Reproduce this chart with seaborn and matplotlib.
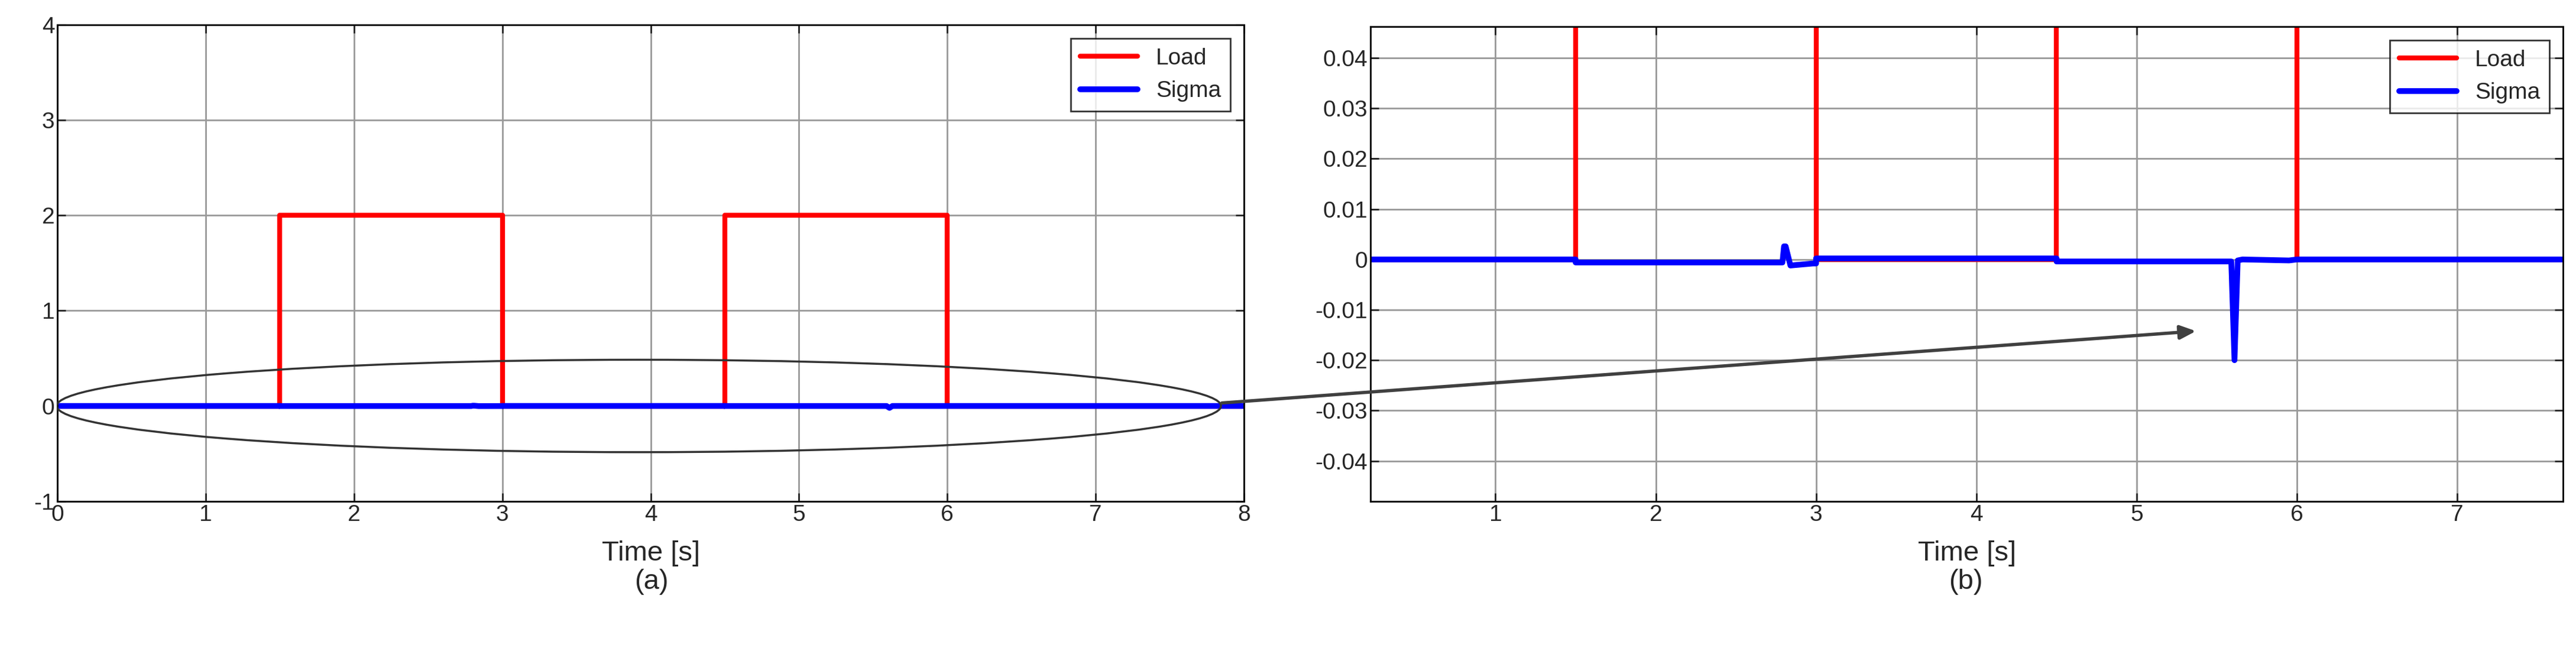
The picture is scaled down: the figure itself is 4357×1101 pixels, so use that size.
import numpy as np
import matplotlib.pyplot as plt
import seaborn as sns
from matplotlib.patches import Ellipse

# --- data ---
load_t = [0, 1.5, 1.5, 3.0, 3.0, 4.5, 4.5, 6.0, 6.0, 8.0]
load_v = [0, 0, 2, 2, 0, 0, 2, 2, 0, 0]

sigma_t = [0, 1.5, 1.5, 2.79, 2.80, 2.81, 2.84, 2.98, 3.0, 3.0, 4.5, 4.5, 5.59, 5.61, 5.63, 5.66, 5.95, 6.0, 8.0]
sigma_v = [0, 0, -0.0006, -0.0006, 0.0026, 0.0026, -0.0012, -0.0008, -0.0008, 0.0002, 0.0002,
           -0.0004, -0.0004, -0.0200, -0.0002, 0.0, -0.0002, 0.0, 0.0]

left_yticks = [-1, 0, 1, 2, 3, 4]
right_yticks = [-0.04, -0.03, -0.02, -0.01, 0, 0.01, 0.02, 0.03, 0.04]

sns.set_style("white")
plt.rcParams['font.family'] = ['Liberation Sans', 'DejaVu Sans']
plt.rcParams['axes.unicode_minus'] = False

fig = plt.figure(figsize=(43.57, 11.01), dpi=100)
ax1 = fig.add_axes([0.0223, 0.23, 0.4606, 0.732])
ax2 = fig.add_axes([0.532, 0.23, 0.463, 0.729])


def style(ax):
    ax.grid(True, color='#999999', linewidth=2)
    ax.tick_params(direction='in', length=10, width=2, labelsize=28,
                   top=True, right=True, bottom=True, left=True)
    for s in ax.spines.values():
        s.set_linewidth(2)
        s.set_color('black')
    ax.set_xlabel('Time [s]', fontsize=34, labelpad=18)


for ax in (ax1, ax2):
    sns.lineplot(x=load_t, y=load_v, ax=ax, color='red', linewidth=6, label='Load',
                 sort=False, estimator=None)
    sns.lineplot(x=sigma_t, y=sigma_v, ax=ax, color='blue', linewidth=7, label='Sigma',
                 sort=False, estimator=None)
    style(ax)
    leg = ax.legend(loc='upper right', fontsize=28, frameon=True, fancybox=False,
                    edgecolor='black', handlelength=2.5, borderaxespad=0.6)
    leg.get_frame().set_linewidth(2)

ax1.set_xlim(0, 8)
ax1.set_ylim(-1, 4)
ax1.set_yticks(left_yticks)
ax1.set_xticks(range(0, 9))

ax2.set_xlim(0.22, 7.66)
ax2.set_ylim(-0.048, 0.0462)
ax2.set_yticks(right_yticks)
ax2.set_yticklabels([f'{v:g}' for v in right_yticks])
ax2.set_xticks(range(1, 8))

ell = Ellipse((3.92, 0), 7.85, 0.97, fill=False, edgecolor='#333333', linewidth=2.5, zorder=5)
ax1.add_patch(ell)

ax2.annotate('', xy=(5.38, -0.0142), xycoords='data',
             xytext=(7.84, 0.03), textcoords=ax1.transData,
             arrowprops=dict(arrowstyle='-|>,head_length=1.6,head_width=0.7',
                             color='#404040', linewidth=4),
             annotation_clip=False)

fig.text(0.253, 0.095, '(a)', fontsize=34, ha='center')
fig.text(0.763, 0.095, '(b)', fontsize=34, ha='center')

fig.savefig('out.png', dpi=100)
